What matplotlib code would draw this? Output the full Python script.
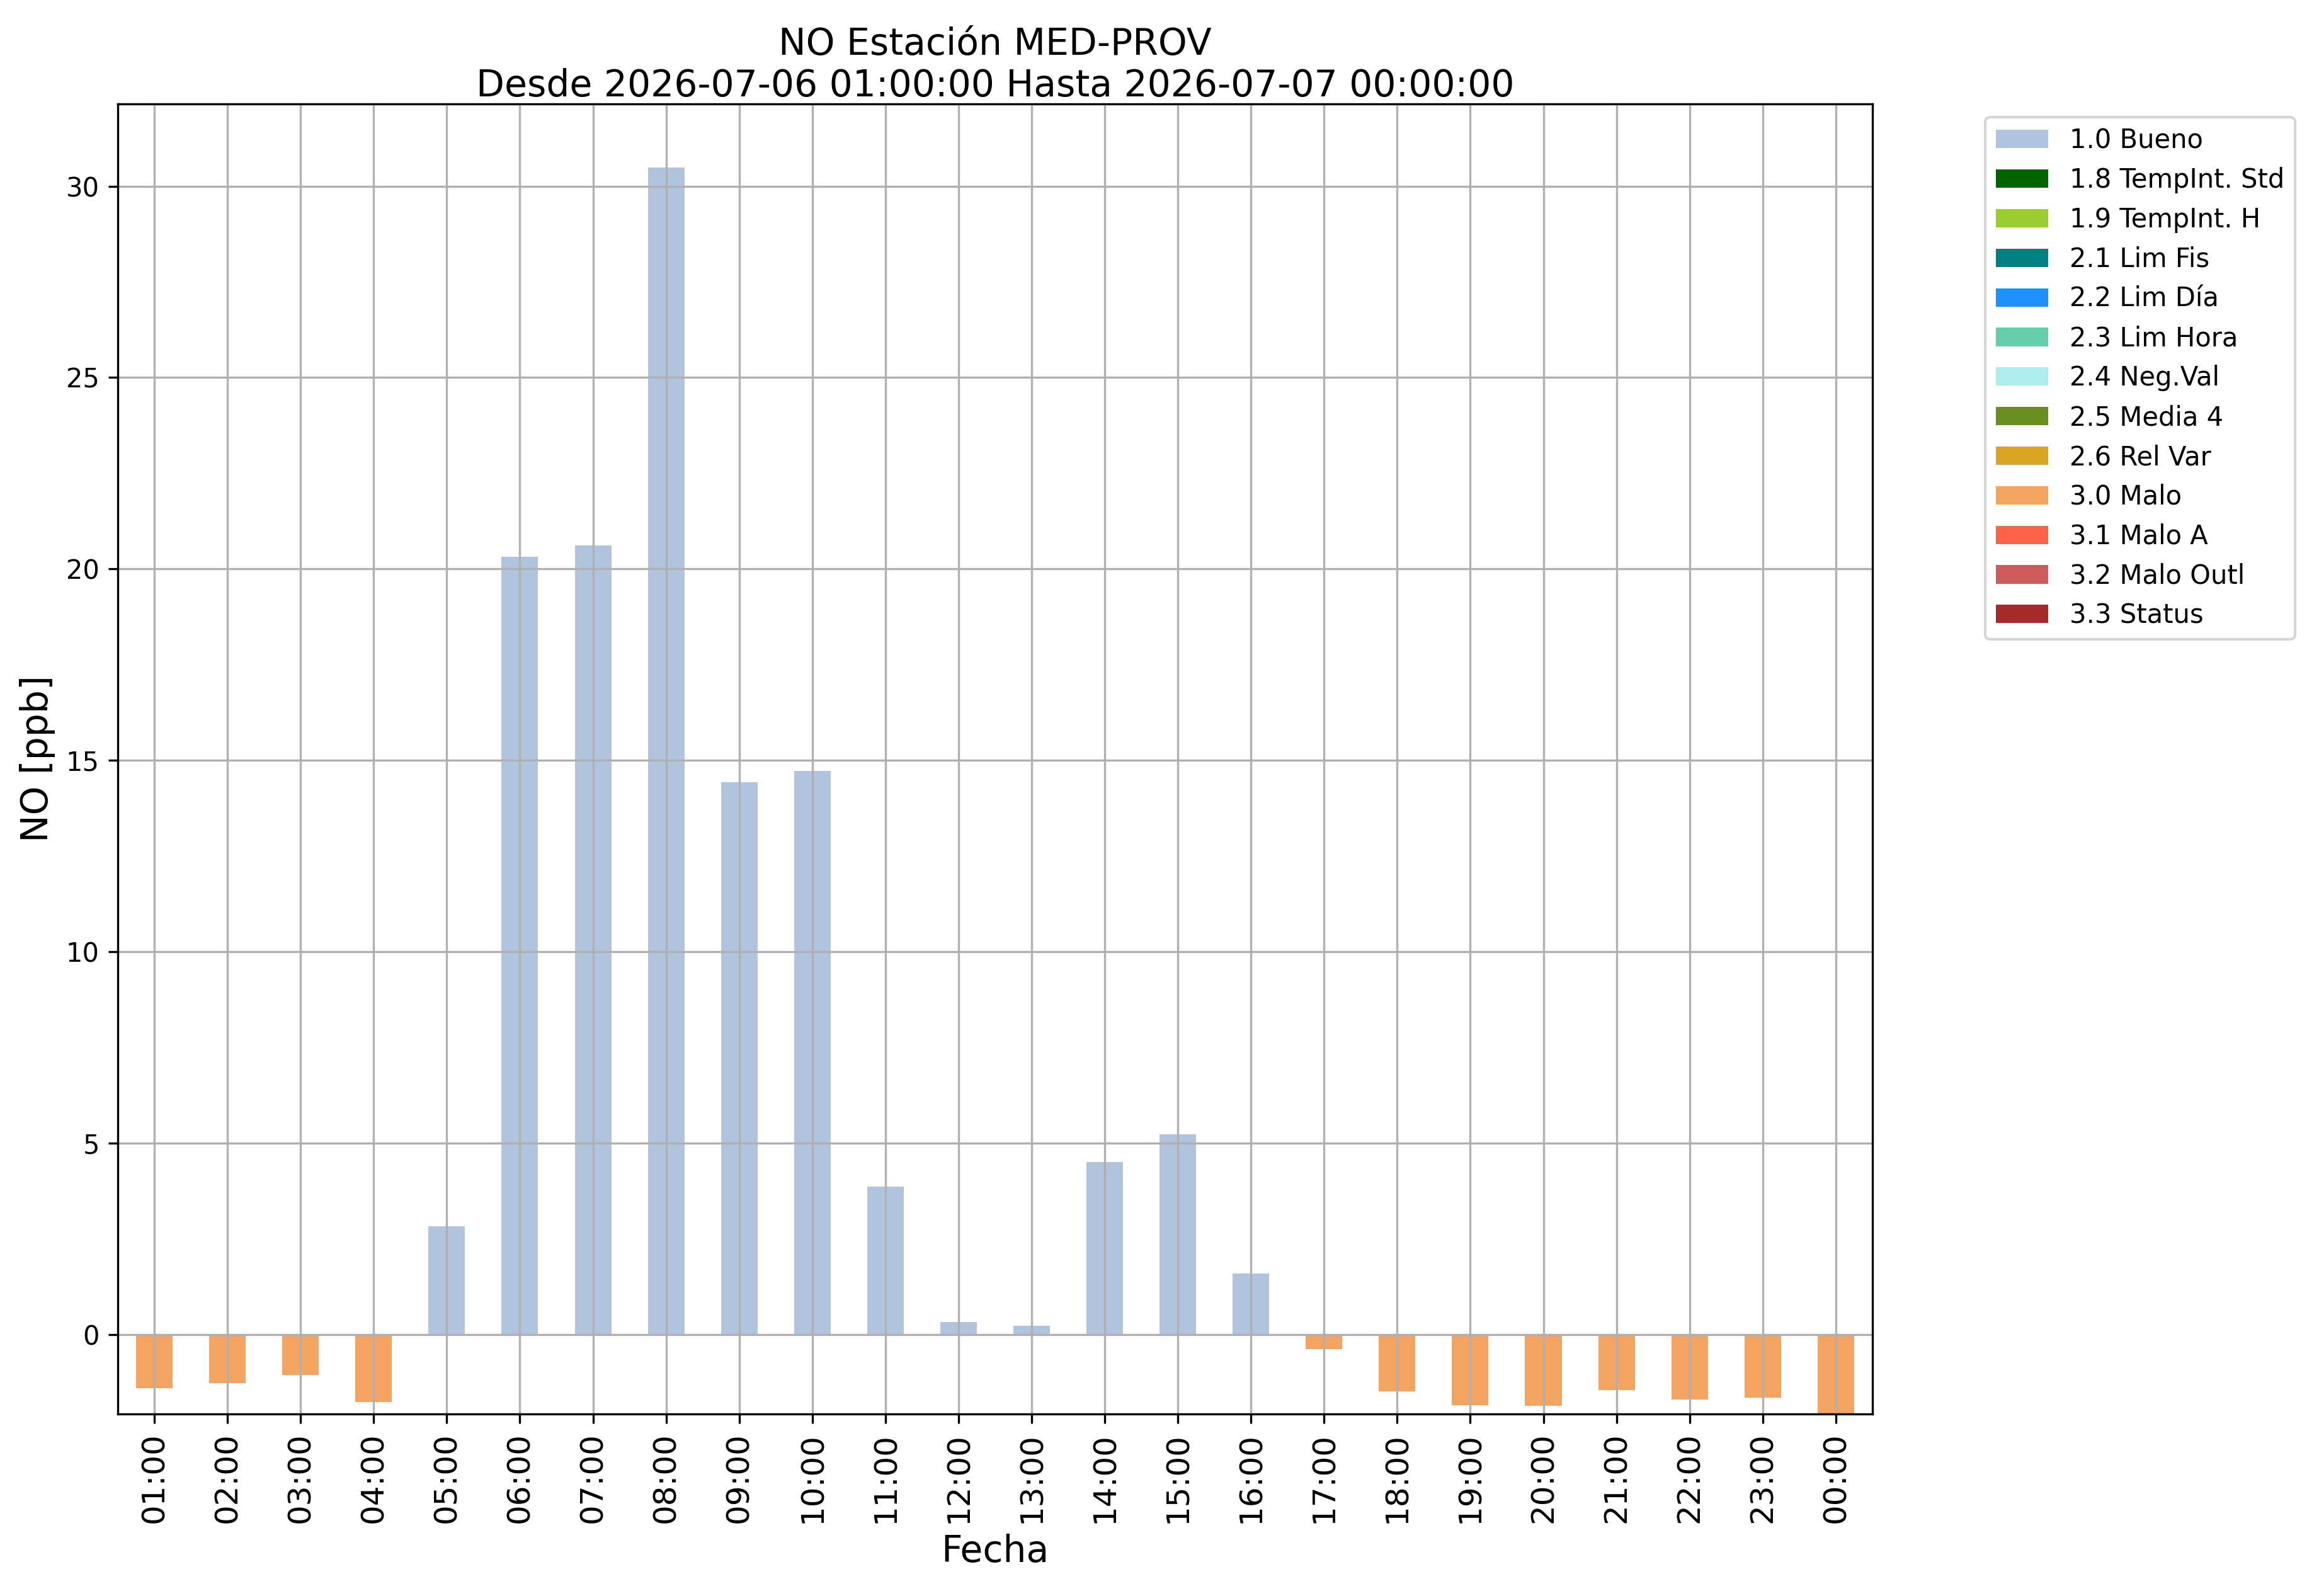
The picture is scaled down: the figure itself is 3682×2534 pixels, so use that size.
import numpy as np
import matplotlib.pyplot as plt

horas = ['01:00', '02:00', '03:00', '04:00', '05:00', '06:00', '07:00', '08:00',
         '09:00', '10:00', '11:00', '12:00', '13:00', '14:00', '15:00', '16:00',
         '17:00', '18:00', '19:00', '20:00', '21:00', '22:00', '23:00', '00:00']
valores = [-1.40, -1.27, -1.06, -1.77, 2.82, 20.32, 20.62, 30.48,
           14.43, 14.72, 3.87, 0.32, 0.22, 4.50, 5.23, 1.59,
           -0.38, -1.49, -1.85, -1.87, -1.45, -1.70, -1.65, -2.08]
flags = [3.0, 3.0, 3.0, 3.0, 1.0, 1.0, 1.0, 1.0,
         1.0, 1.0, 1.0, 1.0, 1.0, 1.0, 1.0, 1.0,
         3.0, 3.0, 3.0, 3.0, 3.0, 3.0, 3.0, 3.0]

codigos = [1.0, 1.8, 1.9, 2.1, 2.2, 2.3, 2.4, 2.5, 2.6, 3.0, 3.1, 3.2, 3.3]
nombres = ['1.0 Bueno', '1.8 TempInt. Std', '1.9 TempInt. H', '2.1 Lim Fis',
           '2.2 Lim Día', '2.3 Lim Hora', '2.4 Neg.Val', '2.5 Media 4',
           '2.6 Rel Var', '3.0 Malo', '3.1 Malo A', '3.2 Malo Outl', '3.3 Status']
colores = ['lightsteelblue', 'darkgreen', 'yellowgreen', 'teal', 'dodgerblue',
           'mediumaquamarine', 'paleturquoise', 'olivedrab', 'goldenrod',
           'sandybrown', 'tomato', 'indianred', 'brown']

fig = plt.figure(figsize=(3682 / 300, 2534 / 300), dpi=300)
ax = fig.add_axes([0.0508, 0.1140, 0.8074 - 0.0508, 0.9349 - 0.1140])

x = np.arange(len(horas))
v = np.array(valores)
f = np.array(flags)
for cod, nom, col in zip(codigos, nombres, colores):
    alturas = np.where(np.isclose(f, cod), v, np.nan)
    ax.bar(x, alturas, width=0.5, color=col, label=nom)

ax.set_xlim(-0.5, len(horas) - 0.5)
ax.set_ylim(-2.08, 32.15)
ax.set_xticks(x)
ax.set_xticklabels(horas, rotation=90, fontsize=12)
ax.tick_params(axis='y', labelsize=10)
ax.grid(True)
ax.set_xlabel('Fecha', fontsize=14)
ax.set_ylabel('NO [ppb]', fontsize=14)
ax.set_title('NO Estación MED-PROV\nDesde 2026-07-06 01:00:00 Hasta 2026-07-07 00:00:00',
             fontsize=14, pad=1)
ax.legend(bbox_to_anchor=(1.057, 1), loc='upper left', fontsize=10)

fig.savefig('out.png', dpi=300)
